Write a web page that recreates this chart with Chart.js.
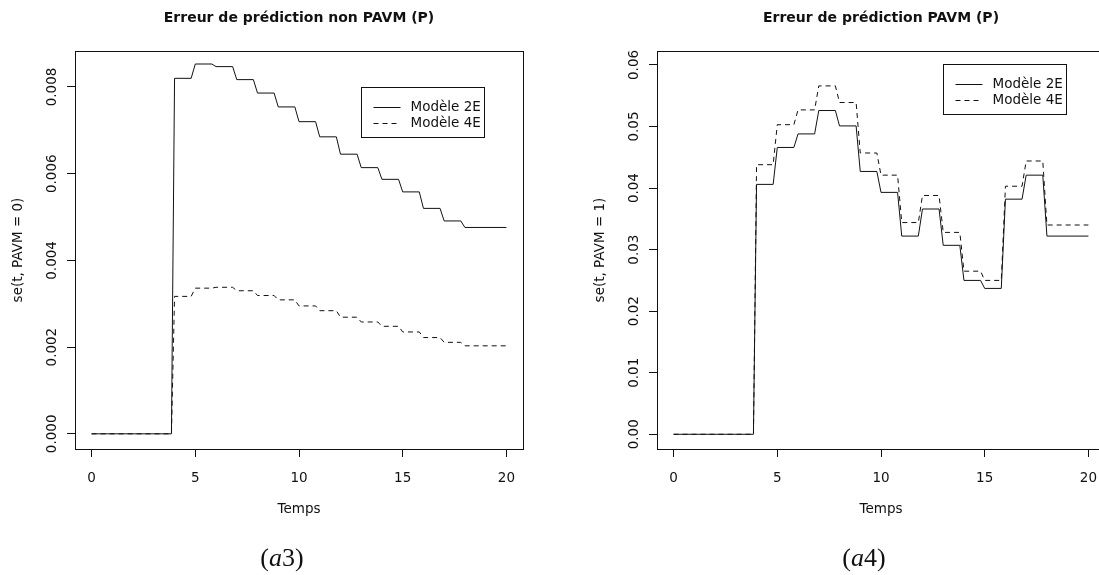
<!DOCTYPE html>
<html lang="fr">
<head>
<meta charset="utf-8">
<title>Erreur de prédiction</title>
<script src="https://cdn.jsdelivr.net/npm/chart.js@4.4.1/dist/chart.umd.min.js"></script>
<style>
    html, body { margin: 0; padding: 0; background: #fff; }
    body { width: 1099px; height: 575px; overflow: hidden; position: relative; }
    canvas { position: absolute; top: 0; }
    #chartP0 { left: 0; }
    #chartP1 { left: 582px; }
    .legende {
        position: absolute; top: 543px; width: 120px; text-align: center;
        font-family: "Liberation Serif", serif; font-size: 26px; line-height: 30px; color: #111;
    }
    .legende i { font-style: italic; }
</style>
</head>
<body>
<canvas id="chartP0" width="560" height="575"></canvas>
<canvas id="chartP1" width="560" height="575"></canvas>
<div class="legende" style="left: 222px;">(<i>a</i>3)</div>
<div class="legende" style="left: 804px;">(<i>a</i>4)</div>

<script>
// Paliers : début et fin de chaque niveau (le passage d'un niveau au suivant se fait entre fin[i] et debut[i+1])
const debutPaliers = [0, 4, 5, 6, 7, 8, 9, 10, 11, 12, 13, 14, 15, 16, 17, 18];
const finPaliers = [3.85, 4.8, 5.8, 6.8, 7.8, 8.8, 9.8, 10.8, 11.8, 12.8, 13.8, 14.8, 15.8, 16.8, 17.8, 20];

// PAVM = 0
const se2E_P0 = [0, 0.00820, 0.00853, 0.00847, 0.00817, 0.00786, 0.00754, 0.00720, 0.00685, 0.00645, 0.00614, 0.00587, 0.00558, 0.00520, 0.00491, 0.00476];
const se4E_P0 = [0, 0.00317, 0.00336, 0.00338, 0.00330, 0.00319, 0.00309, 0.00295, 0.00284, 0.00269, 0.00258, 0.00248, 0.00235, 0.00222, 0.00211, 0.00203];

// PAVM = 1
const se2E_P1 = [0, 0.0406, 0.0466, 0.0488, 0.0526, 0.0501, 0.0427, 0.0393, 0.0322, 0.0366, 0.0307, 0.0250, 0.0237, 0.0382, 0.0421, 0.0322];
const se4E_P1 = [0, 0.0438, 0.0503, 0.0527, 0.0566, 0.0539, 0.0457, 0.0421, 0.0344, 0.0388, 0.0328, 0.0265, 0.0250, 0.0403, 0.0444, 0.0340];

const ticksTemps = [0, 5, 10, 15, 20];
const ticksP0 = [0, 0.002, 0.004, 0.006, 0.008];
const ticksP1 = [0, 0.01, 0.02, 0.03, 0.04, 0.05, 0.06];

const encre = '#111';
const taille = 13.5;
Chart.defaults.font.family = '"DejaVu Sans", sans-serif';
Chart.defaults.color = encre;

function points(valeurs) {
    const pts = [];
    valeurs.forEach(function(v, i) {
        pts.push({ x: debutPaliers[i], y: v });
        pts.push({ x: finPaliers[i], y: v });
    });
    return pts;
}

// cadre, étiquettes verticales de l'axe y et légende façon R
const styleR = {
    id: 'styleR',
    afterDraw: function(chart, args, opts) {
        const ctx = chart.ctx;
        const a = chart.chartArea;
        ctx.save();
        ctx.strokeStyle = encre;
        ctx.lineWidth = 1;
        ctx.strokeRect(Math.round(a.left) + 0.5, Math.round(a.top) + 0.5, Math.round(a.right - a.left), Math.round(a.bottom - a.top));

        // étiquettes de l'axe y, tournées
        const y = chart.scales.y;
        ctx.fillStyle = encre;
        ctx.font = taille + 'px "DejaVu Sans", sans-serif';
        ctx.textAlign = 'center';
        ctx.textBaseline = 'middle';
        y.ticks.forEach(function(t) {
            ctx.save();
            ctx.translate(opts.labelX, y.getPixelForValue(t.value));
            ctx.rotate(-Math.PI / 2);
            ctx.fillText(t.value.toFixed(opts.decimales), 0, 0);
            ctx.restore();
        });

        // légende
        const lx = Math.round(a.left + opts.legendeX) + 0.5;
        const ly = Math.round(a.top + opts.legendeY) + 0.5;
        ctx.strokeRect(lx, ly, 123, 50);
        ctx.textAlign = 'left';
        chart.data.datasets.forEach(function(ds, i) {
            const yy = Math.round(ly + 19 + i * 16) + 0.5;
            ctx.setLineDash(ds.borderDash || []);
            ctx.beginPath();
            ctx.moveTo(lx + 12, yy);
            ctx.lineTo(lx + 39, yy);
            ctx.stroke();
            ctx.setLineDash([]);
            ctx.fillText(ds.label, lx + 49, yy);
        });
        ctx.restore();
    }
};

function creerGraphique(id, titre, titreY, serie2E, serie4E, ticksY, yMin, yMax, decimales, legendeY) {
    return new Chart(document.getElementById(id), {
        type: 'line',
        data: {
            datasets: [{
                label: 'Modèle 2E',
                data: points(serie2E),
                borderColor: encre,
                borderWidth: 1,
                pointRadius: 0,
                tension: 0
            }, {
                label: 'Modèle 4E',
                data: points(serie4E),
                borderColor: encre,
                borderWidth: 1,
                borderDash: [5, 4],
                pointRadius: 0,
                tension: 0
            }]
        },
        options: {
            responsive: false,
            animation: false,
            devicePixelRatio: 1,
            layout: { padding: { left: 0, right: 37, top: 0, bottom: 57.5 } },
            plugins: {
                legend: { display: false },
                tooltip: { enabled: false },
                title: {
                    display: true,
                    text: titre,
                    fullSize: false,
                    color: encre,
                    font: { size: 14, weight: 'bold' },
                    padding: { top: 9.6, bottom: 24.6 }
                },
                styleR: { labelX: 52, decimales: decimales, legendeX: 286, legendeY: legendeY }
            },
            scales: {
                x: {
                    type: 'linear',
                    min: -0.8,
                    max: 20.8,
                    afterBuildTicks: function(s) { s.ticks = ticksTemps.map(v => ({ value: v })); },
                    afterFit: function(s) { s.height = 68.5; },
                    grid: { drawOnChartArea: false, drawTicks: true, tickLength: 8, color: encre },
                    border: { display: false },
                    ticks: { autoSkip: false, maxRotation: 0, padding: 13, font: { size: taille }, color: encre },
                    title: { display: true, text: 'Temps', font: { size: taille }, color: encre, padding: { top: 0, bottom: 0 } }
                },
                y: {
                    type: 'linear',
                    min: yMin,
                    max: yMax,
                    afterBuildTicks: function(s) { s.ticks = ticksY.map(v => ({ value: v })); },
                    afterFit: function(s) { s.width = 75; },
                    grid: { drawOnChartArea: false, drawTicks: true, tickLength: 8, color: encre },
                    border: { display: false },
                    ticks: { display: false },
                    title: { display: true, text: titreY, font: { size: taille }, color: encre, padding: { top: 10, bottom: 0 } }
                }
            }
        },
        plugins: [styleR]
    });
}

document.addEventListener('DOMContentLoaded', function() {
    creerGraphique('chartP0', 'Erreur de prédiction non PAVM (P)', 'se(t, PAVM = 0)',
        se2E_P0, se4E_P0, ticksP0, -0.00035, 0.00883, 3, 36);
    creerGraphique('chartP1', 'Erreur de prédiction PAVM (P)', 'se(t, PAVM = 1)',
        se2E_P1, se4E_P1, ticksP1, -0.00239, 0.06227, 2, 13.3);
});
</script>
</body>
</html>
